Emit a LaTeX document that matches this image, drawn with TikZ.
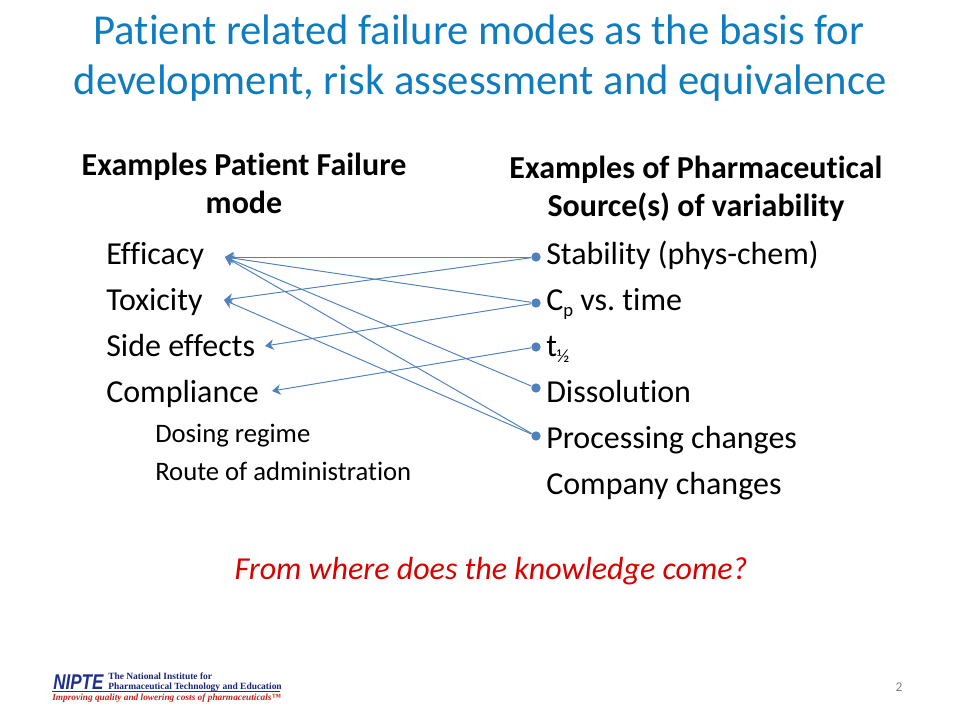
\documentclass[tikz,border=0pt]{standalone}
\usepackage{fontspec}
\usetikzlibrary{arrows.meta}
\setmainfont[Ligatures=NoCommon]{Carlito}
\newfontfamily\logoserif{Liberation Serif}
\newfontfamily\logosans{Liberation Sans}
\definecolor{titleblue}{HTML}{0F7CBF}
\definecolor{linkblue}{HTML}{4F81BD}
\definecolor{logoblue}{HTML}{1F2F8F}
\definecolor{logored}{HTML}{C8201C}
\newcommand{\lowtxt}[1]{\raisebox{-.45ex}{\fontsize{14bp}{14bp}\selectfont #1}}
\tikzset{
    txt/.style={anchor=base west, inner sep=0pt, font=\fontsize{24bp}{28bp}\selectfont},
    subtxt/.style={anchor=base west, inner sep=0pt, font=\fontsize{20bp}{24bp}\selectfont},
    head/.style={anchor=base, inner sep=0pt, font=\fontsize{24bp}{28bp}\selectfont\bfseries},
    ttl/.style={anchor=base, inner sep=0pt, text=titleblue, font=\fontsize{32bp}{38bp}\selectfont},
    dot/.style={circle, fill=linkblue, inner sep=0pt, minimum size=7bp},
    link/.style={-{Stealth[length=6.5bp,width=8bp]}, draw=linkblue, fill=linkblue, line width=.7pt},
    logotxt/.style={anchor=west, align=left, inner sep=0pt, text=logoblue!80!black, font=\logoserif\fontsize{7.1bp}{7.4bp}\selectfont\bfseries},
}
\begin{document}
\begin{tikzpicture}[x=.75bp,y=-.75bp]
\useasboundingbox (0,0) rectangle (960,720);
\node[ttl] (title1) at (479,44) {Patient related failure modes as the basis for};
\node[ttl] (title2) at (480,94) {development, risk assessment and equivalence};

\node[head] (headL1) at (244,175) {Examples Patient Failure};
\node[head] (headL2) at (244,213) {mode};
\node[head] (headR1) at (696,178) {Examples of Pharmaceutical};
\node[head] (headR2) at (696,216) {Source(s) of variability};

% failure modes
\node[txt] (efficacy) at (106,264) {Efficacy};
\node[txt] (toxicity) at (106,310) {Toxicity};
\node[txt] (side) at (106,356) {Side effects};
\node[txt] (compliance) at (106,402) {Compliance};
\node[subtxt] (dosing) at (155,442) {Dosing regime};
\node[subtxt] (route) at (155,480) {Route of administration};

% sources
\node[txt] (stability) at (546,264) {Stability (phys-chem)};
\node[txt] (cp) at (546,310) {C\lowtxt{p} vs.\ time};
\node[txt] (thalf) at (546,356) {t\lowtxt{½}};
\node[txt] (dissolution) at (546,402) {Dissolution};
\node[txt] (processing) at (546,448) {Processing changes};
\node[txt] (company) at (546,494) {Company changes};

\node[dot] (dstab) at (536,257) {};
\node[dot] (dcp) at (536,303) {};
\node[dot] (dthalf) at (536,347) {};
\node[dot] (ddiss) at (536,388) {};
\node[dot] (dproc) at (536,436) {};

\coordinate (aeff) at (225,257);
\coordinate (atox) at (224,300);
\coordinate (aside) at (265,346);
\coordinate (acomp) at (272,391);

\draw[link] (dstab)--(aeff);
\draw[link] (dstab)--(atox);
\draw[link] (dcp)--(aeff);
\draw[link] (dcp)--(aside);
\draw[link] (dthalf)--(acomp);
\draw[link] (ddiss)--(aeff);
\draw[link] (dproc)--(aeff);
\draw[link] (dproc)--(atox);

\node[anchor=base, inner sep=0pt, text=red!85!black, font=\fontsize{24bp}{28bp}\selectfont\itshape] (question) at (491,579) {From where does the knowledge come?};
\node[anchor=base, inner sep=0pt, text=black!50, font=\fontsize{10bp}{12bp}\selectfont] (pagenum) at (899,691) {2};

% logo
\node[anchor=base west, inner sep=0pt, text=logoblue, font=\logosans\fontsize{16bp}{16bp}\selectfont\bfseries\itshape] (nipte) at (53,689) {\scalebox{.8}[1]{NIPTE}};
\node[logotxt] (logotext) at (108,682) {The National Institute for\\Pharmaceutical Technology and Education};
\coordinate (rulea) at (52,691);
\coordinate (ruleb) at (280,691);
\draw[logoblue, line width=.4pt] (rulea)--(ruleb);
\node[anchor=base west, inner sep=0pt, text=logored, font=\logoserif\fontsize{7bp}{7bp}\selectfont\bfseries\itshape] (logo3) at (52,700) {Improving quality and lowering costs of pharmaceuticals™};
\end{tikzpicture}
\end{document}
